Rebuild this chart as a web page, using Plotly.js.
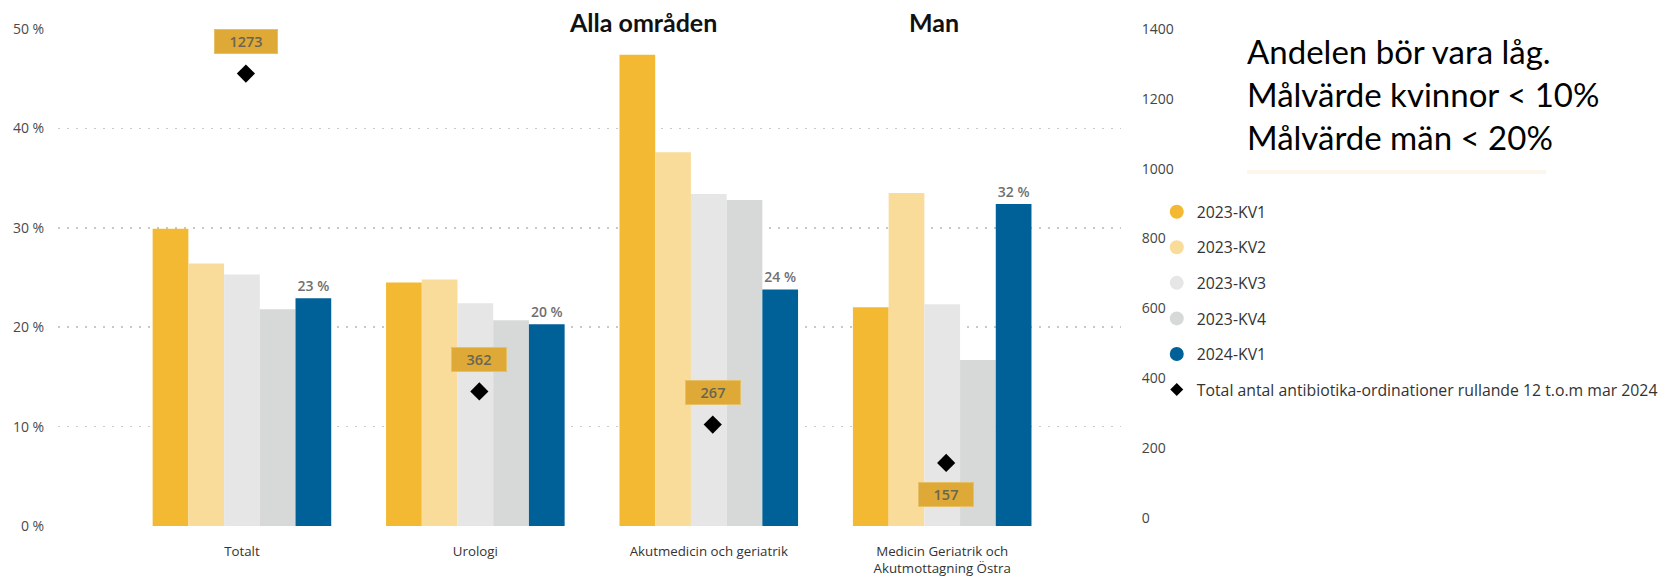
<!DOCTYPE html>
<html>
<head>
<meta charset="utf-8">
<script src="https://cdn.plot.ly/plotly-3.0.1.min.js"></script>
<style>html,body{margin:0;padding:0;background:#fff;}#chart{width:1675px;height:578px;}</style>
</head>
<body>
<div id="chart"></div>
<script>
// ---- data ----
var categories = ['Totalt', 'Urologi', 'Akutmedicin och geriatrik', 'Medicin Geriatrik och<br>Akutmottagning Östra'];
var seriesNames = ['2023-KV1', '2023-KV2', '2023-KV3', '2023-KV4', '2024-KV1'];
var kv1_2023 = [29.9, 24.5, 47.4, 22.0];
var kv2_2023 = [26.4, 24.8, 37.6, 33.5];
var kv3_2023 = [25.3, 22.4, 33.4, 22.3];
var kv4_2023 = [21.8, 20.7, 32.8, 16.7];
var kv1_2024 = [22.9, 20.3, 23.8, 32.4];
var totalOrdinations = [1273, 362, 267, 157];
var totalName = 'Total antal antibiotika-ordinationer rullande 12 t.o.m mar 2024';
var leftTicks = [0, 10, 20, 30, 40, 50];
var leftTickText = ['0 %', '10 %', '20 %', '30 %', '40 %', '50 %'];
var rightTicks = [0, 200, 400, 600, 800, 1000, 1200, 1400];
var noteLines = ['Andelen bör vara låg.', 'Målvärde kvinnor < 10%', 'Målvärde män < 20%'];
var panelTitles = ['Alla områden', 'Man'];

// ---- styling ----
var colors = ['#F4B932', '#F9DC9A', '#E6E6E6', '#D7D9D8', '#006198'];
var FONT = 'Open Sans, Noto Sans, sans-serif';
var seriesValues = [kv1_2023, kv2_2023, kv3_2023, kv4_2023, kv1_2024];

var traces = [];
seriesValues.forEach(function (vals, i) {
  var t = {
    type: 'bar', x: categories, y: vals, name: seriesNames[i],
    marker: {color: colors[i]}, showlegend: false, hoverinfo: 'y'
  };
  if (i === 4) {
    t.texttemplate = '%{y:.0f} %';
    t.textposition = 'outside';
    t.textfont = {family: FONT, size: 14, color: '#707070', weight: 600};
    t.cliponaxis = false;
  }
  traces.push(t);
});
traces.push({
  type: 'scatter', mode: 'markers', x: categories, y: totalOrdinations, xaxis: 'x2', yaxis: 'y2',
  name: totalName, marker: {symbol: 'diamond', size: 14, color: '#000'}, showlegend: false
});
// legend entries (circle swatches like the reference)
seriesNames.forEach(function (n, i) {
  traces.push({type: 'scatter', mode: 'markers', x: [null], y: [null], name: n, legendgroup: 'g' + i,
    marker: {symbol: 'circle', size: 14, color: colors[i]}, hoverinfo: 'skip'});
});
traces.push({type: 'scatter', mode: 'markers', x: [null], y: [null], name: totalName, legendgroup: 'g5',
  marker: {symbol: 'diamond', size: 10, color: '#000'}, hoverinfo: 'skip'});

var annotations = [];
totalOrdinations.forEach(function (v, i) {
  var digits = String(v).length;
  annotations.push({
    xref: 'x2', yref: 'y2', x: categories[i], y: v, yshift: v < 200 ? -32 : 32,
    xanchor: 'center', yanchor: 'middle',
    text: String(v), showarrow: false, bgcolor: '#DEA936', bordercolor: '#E6C066', borderwidth: 1,
    borderpad: 3, width: digits * 8 + 24, height: 17,
    font: {family: FONT, size: 14.5, color: '#6A6552', weight: 600}
  });
});
var titleY = (526 - 22) / 497;
annotations.push({xref: 'paper', yref: 'paper', x: (646.5 - 58) / 1070, y: titleY, xanchor: 'center', yanchor: 'middle',
  text: panelTitles[0], showarrow: false, font: {family: 'Lato, sans-serif', size: 25, color: '#111', weight: 700}});
annotations.push({xref: 'paper', yref: 'paper', x: (940 - 58) / 1070, y: titleY, xanchor: 'center', yanchor: 'middle',
  text: panelTitles[1], showarrow: false, font: {family: 'Lato, sans-serif', size: 25, color: '#111', weight: 700}});
annotations.push({xref: 'paper', yref: 'paper', x: (1253 - 58) / 1070, y: (526 - 29) / 497,
  xanchor: 'left', yanchor: 'top', align: 'left', text: noteLines.join('<br>'), showarrow: false,
  font: {family: 'Lato, sans-serif', size: 33, color: '#000'}});

var layout = {
  width: 1675, height: 578,
  margin: {l: 58, r: 547, t: 29, b: 52, pad: 0},
  paper_bgcolor: '#fff', plot_bgcolor: '#fff',
  barmode: 'group', bargap: 0.235, bargroupgap: 0,
  font: {family: FONT, color: '#333'},
  xaxis: {
    type: 'category', range: [-0.788, 3.766], showgrid: false, zeroline: false, showline: false,
    ticks: 'outside', ticklen: 13, tickcolor: 'rgba(0,0,0,0)',
    tickfont: {family: FONT, size: 13.3, color: '#333'}
  },
  xaxis2: {
    type: 'category', overlaying: 'x', range: [-0.805, 3.749], visible: false
  },
  yaxis: {
    range: [0, 50], tickvals: leftTicks, ticktext: leftTickText, showgrid: true,
    gridcolor: '#C9C9C9', gridwidth: 1.5, griddash: '2px,7px', zeroline: false, showline: false,
    ticks: 'outside', ticklen: 10, tickcolor: 'rgba(0,0,0,0)',
    tickfont: {family: FONT, size: 14, color: '#4a4a4a'}
  },
  yaxis2: {
    overlaying: 'y', side: 'right', range: [-23.8, 1400.7], tickvals: rightTicks,
    showgrid: false, zeroline: false, showline: false,
    ticks: 'outside', ticklen: 17, tickcolor: 'rgba(0,0,0,0)',
    tickfont: {family: FONT, size: 14, color: '#444'}
  },
  legend: {
    x: (1164 - 58) / 1070, y: (526 - 195) / 497, xanchor: 'left', yanchor: 'top',
    traceorder: 'grouped', tracegroupgap: 12, font: {family: FONT, size: 15.8, color: '#333'},
    bgcolor: 'rgba(0,0,0,0)'
  },
  annotations: annotations,
  shapes: [{type: 'line', xref: 'paper', yref: 'paper', x0: (1255 - 58) / 1070, x1: (1556 - 58) / 1070,
    y0: (526 - 172) / 497, y1: (526 - 172) / 497, line: {color: 'rgba(246,228,185,0.3)', width: 4}}]
};

Plotly.newPlot('chart', traces, layout, {displayModeBar: false, staticPlot: true});
</script>
</body>
</html>
